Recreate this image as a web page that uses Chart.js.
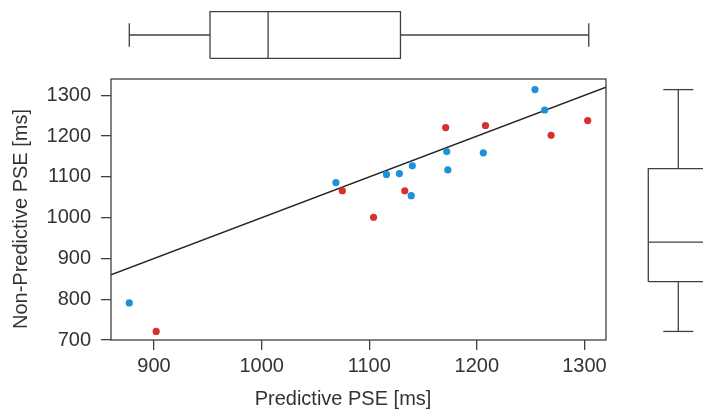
<!DOCTYPE html>
<html>
<head>
<meta charset="utf-8">
<title>Predictive vs Non-Predictive PSE</title>
<script src="https://cdn.jsdelivr.net/npm/chart.js@4.4.1/dist/chart.umd.min.js"></script>
<style>
html, body { margin: 0; padding: 0; background: #fff; overflow: hidden; }
#wrap { position: relative; width: 703px; height: 409px; overflow: hidden; }
canvas { position: absolute; top: 0; }
#mainChart { left: 0; }
#topBox { left: 0; }
#rightBox { left: 630px; }
</style>
</head>
<body>
<div id="wrap">
  <canvas id="mainChart" width="703" height="409"></canvas>
  <canvas id="topBox" width="703" height="70"></canvas>
  <canvas id="rightBox" width="100" height="409"></canvas>
</div>
<script>
// Data
const blueX = [877, 1069, 1254, 1263, 1172, 1206, 1140, 1116, 1128, 1173, 1139];
const blueY = [791, 1086, 1314, 1264, 1162, 1159, 1127, 1106, 1108, 1117, 1054];
const redX = [902, 1075, 1303, 1208, 1171, 1269, 1133, 1104];
const redY = [721, 1066, 1238, 1226, 1221, 1202, 1066, 1001];
const lineX = [860, 1320];
const lineY = [860, 1320];
const xTicks = [900, 1000, 1100, 1200, 1300];
const yTicks = [700, 800, 900, 1000, 1100, 1200, 1300];
// boxplots: min, q1, median, q3, max
const predBox = [877, 952, 1006, 1129, 1304];
const nonPredBox = [721, 843, 940, 1120, 1314];

const xTitle = 'Predictive PSE [ms]';
const yTitle = 'Non-Predictive PSE [ms]';

const FONT = '"Liberation Sans", Arial, Helvetica, sans-serif';
const INK = '#333333';
const LINE = '#404040';

const toPts = (xs, ys) => xs.map((x, i) => ({ x: x, y: ys[i] }));

// frame round the plot + axis titles
const framePlugin = {
    id: 'frame',
    beforeDatasetsDraw(chart) {
        const a = chart.chartArea;
        const ctx = chart.ctx;
        ctx.save();
        ctx.strokeStyle = LINE;
        ctx.lineWidth = 1.3;
        ctx.strokeRect(a.left, a.top, a.right - a.left, a.bottom - a.top);
        ctx.restore();
    },
    afterDraw(chart) {
        const a = chart.chartArea;
        const ctx = chart.ctx;
        ctx.save();
        ctx.fillStyle = INK;
        ctx.font = '20px ' + FONT;
        ctx.textAlign = 'center';
        ctx.textBaseline = 'alphabetic';
        ctx.fillText(xTitle, a.left + 232, 405);
        ctx.translate(27, 219);
        ctx.rotate(-Math.PI / 2);
        ctx.fillText(yTitle, 0, 0);
        ctx.restore();
    }
};

const tickGrid = { drawOnChartArea: false, drawTicks: true, tickLength: 10, color: LINE, lineWidth: 1.3 };
const plain = v => String(v);

new Chart(document.getElementById('mainChart'), {
    type: 'scatter',
    data: {
        datasets: [
            { label: 'blue', data: toPts(blueX, blueY), backgroundColor: '#1c93d8', borderWidth: 0, pointRadius: 3.6 },
            { label: 'red', data: toPts(redX, redY), backgroundColor: '#d9302e', borderWidth: 0, pointRadius: 3.6 },
            { label: 'y = x', data: toPts(lineX, lineY), showLine: true, borderColor: '#262626', borderWidth: 1.4, pointRadius: 0, fill: false }
        ]
    },
    options: {
        responsive: false,
        animation: false,
        layout: { padding: { top: 79, right: 97, left: 0, bottom: 0 } },
        plugins: { legend: { display: false }, tooltip: { enabled: false } },
        scales: {
            x: {
                type: 'linear', min: 860, max: 1320,
                afterFit: s => { s.height = 69; },
                afterBuildTicks: s => { s.ticks = xTicks.map(v => ({ value: v })); },
                grid: tickGrid,
                border: { display: false },
                ticks: { color: INK, font: { family: FONT, size: 20 }, padding: 4, maxRotation: 0, callback: plain }
            },
            y: {
                type: 'linear', min: 700, max: 1340,
                afterFit: s => { s.width = 111; },
                afterBuildTicks: s => { s.ticks = yTicks.map(v => ({ value: v })); },
                grid: tickGrid,
                border: { display: false },
                ticks: { color: INK, font: { family: FONT, size: 20 }, padding: 10, callback: plain }
            }
        }
    },
    plugins: [framePlugin]
});

// boxplot outline as line segments; across = -1..1 box width
function boxSegments(b, horizontal) {
    const [lo, q1, med, q3, hi] = b;
    const seg = (vals, acr) => vals.map((v, i) => horizontal ? { x: v, y: acr[i] } : { x: acr[i], y: v });
    const parts = [
        seg([q1, q3, q3, q1, q1], [-1, -1, 1, 1, -1]),
        seg([med, med], [-1, 1]),
        seg([lo, q1], [0, 0]),
        seg([q3, hi], [0, 0]),
        seg([lo, lo], [-0.5, 0.5]),
        seg([hi, hi], [-0.5, 0.5])
    ];
    return parts.map(p => ({ data: p, showLine: true, borderColor: LINE, borderWidth: 1.3, pointRadius: 0, clip: false, fill: false }));
}

const hidden = { display: false };

new Chart(document.getElementById('topBox'), {
    type: 'scatter',
    data: { datasets: boxSegments(predBox, true) },
    options: {
        responsive: false,
        animation: false,
        layout: { padding: { top: 11.7, bottom: 11.7, left: 111, right: 97 } },
        plugins: { legend: hidden, tooltip: { enabled: false } },
        scales: {
            x: { type: 'linear', min: 860, max: 1320, display: false },
            y: { type: 'linear', min: -1, max: 1, display: false }
        }
    }
});

new Chart(document.getElementById('rightBox'), {
    type: 'scatter',
    data: { datasets: boxSegments(nonPredBox, false) },
    options: {
        responsive: false,
        animation: false,
        layout: { padding: { top: 79, bottom: 69, left: 18.3, right: 21.7 } },
        plugins: { legend: hidden, tooltip: { enabled: false } },
        scales: {
            x: { type: 'linear', min: -1, max: 1, display: false },
            y: { type: 'linear', min: 700, max: 1340, display: false }
        }
    }
});
</script>
</body>
</html>
